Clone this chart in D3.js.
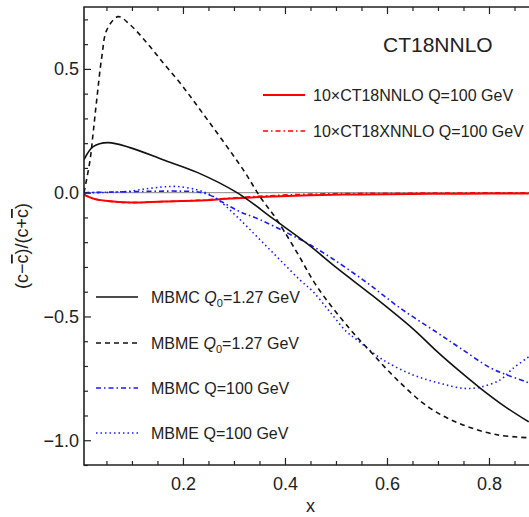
<!DOCTYPE html>
<meta charset="utf-8">
<script src="https://cdn.jsdelivr.net/npm/d3@7"></script>
<style>
body {
  margin: 0;
  background: #fff;
}
text {
  font-family: "Liberation Sans", Arial, sans-serif;
  fill: #222;
}
.tick text {
  font-size: 18px;
}
.domain {
  display: none;
}
</style>
<div id="plot"></div>
<script>

// x in [0.006, 0.878]
var mbmcQ0X = [0.006, 0.024, 0.053, 0.096, 0.161, 0.229, 0.306, 0.38, 0.443, 0.504, 0.573, 0.651, 0.70, 0.743, 0.782, 0.83, 0.878];
var mbmcQ0Y = [0.133, 0.186, 0.202, 0.182, 0.133, 0.081, 0.0, -0.11, -0.205, -0.308, -0.418, -0.55, -0.645, -0.722, -0.788, -0.862, -0.926];

var mbmeQ0X = [0.006, 0.018, 0.024, 0.031, 0.041, 0.051, 0.073, 0.096, 0.129, 0.161, 0.194, 0.229, 0.318, 0.351, 0.384, 0.424, 0.463, 0.527, 0.567, 0.62, 0.684, 0.749, 0.816, 0.878];
var mbmeQ0Y = [0.0, 0.133, 0.243, 0.376, 0.55, 0.659, 0.711, 0.679, 0.606, 0.525, 0.444, 0.348, 0.093, -0.016, -0.109, -0.243, -0.38, -0.55, -0.64, -0.756, -0.87, -0.938, -0.978, -0.99];

var mbmcQX = [0.006, 0.05, 0.1, 0.15, 0.2, 0.233, 0.259, 0.273, 0.312, 0.351, 0.404, 0.449, 0.494, 0.561, 0.625, 0.698, 0.743, 0.802, 0.835, 0.878];
var mbmcQY = [0.0, 0.002, 0.004, 0.006, 0.006, 0.002, -0.016, -0.033, -0.077, -0.109, -0.162, -0.21, -0.268, -0.364, -0.465, -0.565, -0.627, -0.707, -0.736, -0.768];

var mbmeQX = [0.006, 0.05, 0.096, 0.129, 0.16, 0.188, 0.227, 0.253, 0.273, 0.312, 0.351, 0.39, 0.429, 0.455, 0.488, 0.52, 0.541, 0.592, 0.651, 0.704, 0.749, 0.782, 0.822, 0.847, 0.878];
var mbmeQY = [0.0, 0.001, 0.006, 0.016, 0.023, 0.025, 0.012, -0.008, -0.035, -0.109, -0.19, -0.271, -0.352, -0.40, -0.481, -0.56, -0.594, -0.675, -0.736, -0.77, -0.79, -0.786, -0.756, -0.71, -0.663];

var ct18X = [0.006, 0.024, 0.053, 0.096, 0.161, 0.229, 0.292, 0.363, 0.45, 0.55, 0.65, 0.75, 0.878];
var ct18Y = [-0.008, -0.024, -0.034, -0.04, -0.036, -0.032, -0.024, -0.016, -0.01, -0.007, -0.005, -0.004, -0.003];
var ct18xY = [-0.008, -0.024, -0.034, -0.04, -0.036, -0.031, -0.022, -0.013, -0.006, -0.003, -0.002, -0.001, -0.001];

var xTicks = [0.2, 0.4, 0.6, 0.8, 1.0];
var xTickLabels = ['0.2', '0.4', '0.6', '0.8', ''];
var yTicks = [-1.0, -0.5, 0.0, 0.5];

var width = 529, height = 517;

var x = d3.scaleLinear().domain([0.006, 1]).range([84, 591]);
var y = d3.scaleLinear().domain([-1.1, 0.75]).range([465, 7]);

var svg = d3.select('#plot')
  .append('svg')
  .attr('width', width)
  .attr('height', height);

svg.append('defs').append('clipPath')
  .attr('id', 'clip')
  .append('rect')
    .attr('x', x.range()[0])
    .attr('y', y.range()[1])
    .attr('width', x.range()[1] - x.range()[0])
    .attr('height', y.range()[0] - y.range()[1]);

// zero line
svg.append('line')
  .attr('x1', x.range()[0]).attr('x2', width)
  .attr('y1', y(0)).attr('y2', y(0))
  .style('stroke', '#888').style('stroke-width', 1);

var line = d3.line()
  .x(function(d){ return x(d[0]); })
  .y(function(d){ return y(d[1]); })
  .curve(d3.curveCatmullRom.alpha(0.5));

var series = [
  {xs: ct18X, ys: ct18Y, color: '#f00', dash: null, w: 2},
  {xs: ct18X, ys: ct18xY, color: '#f00', dash: '5,3,1.5,3', w: 1.6},
  {xs: mbmeQX, ys: mbmeQY, color: '#1a1aff', dash: '1.5,3', w: 1.6},
  {xs: mbmcQX, ys: mbmcQY, color: '#1a1aff', dash: '5,3,1.5,3', w: 1.6},
  {xs: mbmeQ0X, ys: mbmeQ0Y, color: '#111', dash: '5,4', w: 1.6},
  {xs: mbmcQ0X, ys: mbmcQ0Y, color: '#111', dash: null, w: 1.6}
];

var curves = svg.append('g').attr('clip-path', 'url(#clip)');
series.forEach(function(s){
  curves.append('path')
    .datum(d3.zip(s.xs, s.ys))
    .attr('d', line)
    .style('fill', 'none')
    .style('stroke', s.color)
    .style('stroke-width', s.w)
    .style('stroke-dasharray', s.dash);
});

// frame axes, ticks pointing inward
var minorX = d3.range(0.05, 1.0, 0.05).filter(function(v){ return Math.abs(v*5 - Math.round(v*5)) > 1e-6; });
var minorY = d3.range(-1.1, 0.75, 0.1).filter(function(v){ return Math.abs(v*2 - Math.round(v*2)) > 1e-6; });

svg.append('g')
  .attr('transform', 'translate(0,' + y.range()[0] + ')')
  .call(d3.axisBottom(x).tickValues(xTicks).tickSize(-7).tickPadding(12)
    .tickFormat(function(d, i){ return xTickLabels[i]; }));
svg.append('g')
  .attr('transform', 'translate(0,' + y.range()[0] + ')')
  .call(d3.axisBottom(x).tickValues(minorX).tickSize(-4).tickFormat(''));
svg.append('g')
  .attr('transform', 'translate(0,' + y.range()[1] + ')')
  .call(d3.axisTop(x).tickValues(xTicks).tickSize(-7).tickFormat(''));
svg.append('g')
  .attr('transform', 'translate(0,' + y.range()[1] + ')')
  .call(d3.axisTop(x).tickValues(minorX).tickSize(-4).tickFormat(''));
svg.append('g')
  .attr('transform', 'translate(' + x.range()[0] + ',0)')
  .call(d3.axisLeft(y).tickValues(yTicks).tickSize(-7).tickPadding(5).tickFormat(d3.format('.1f')));
svg.append('g')
  .attr('transform', 'translate(' + x.range()[0] + ',0)')
  .call(d3.axisLeft(y).tickValues(minorY).tickSize(-4).tickFormat(''));

svg.selectAll('.tick line').style('stroke', '#222').style('stroke-width', 1.2);

// frame
svg.append('path')
  .attr('d', 'M' + width + ',' + y.range()[1] + 'H' + x.range()[0] + 'V' + y.range()[0] + 'H' + width)
  .style('fill', 'none')
  .style('stroke', '#222')
  .style('stroke-width', 1.6);

// axis titles
svg.append('text')
  .attr('x', x(0.45))
  .attr('y', 512)
  .attr('text-anchor', 'middle')
  .style('font-size', '18px')
  .text('x');

var ylab = svg.append('text')
  .attr('transform', 'translate(28,246) rotate(-90)')
  .attr('text-anchor', 'middle')
  .style('font-size', '18px');
ylab.append('tspan').text('(c\u2212');
ylab.append('tspan').style('text-decoration', 'overline').text('c');
ylab.append('tspan').text(')/(c+');
ylab.append('tspan').style('text-decoration', 'overline').text('c');
ylab.append('tspan').text(')');

svg.append('text')
  .attr('x', 383)
  .attr('y', 52)
  .style('font-size', '21px')
  .text('CT18NNLO');

// legends
var topLegend = [
  {label: '10\u00d7CT18NNLO Q=100 GeV', s: series[0], y: 95},
  {label: '10\u00d7CT18XNNLO Q=100 GeV', s: series[1], y: 131}
];
topLegend.forEach(function(d){
  svg.append('line')
    .attr('x1', 263).attr('x2', 305)
    .attr('y1', d.y).attr('y2', d.y)
    .style('stroke', d.s.color)
    .style('stroke-width', d.s.w)
    .style('stroke-dasharray', d.s.dash);
  svg.append('text')
    .attr('x', 313).attr('y', d.y + 6)
    .style('font-size', '16px')
    .text(d.label);
});

var botLegend = [
  {name: 'MBMC', q: 'Q', sub: '0', rest: '=1.27 GeV', s: series[5], y: 297},
  {name: 'MBME', q: 'Q', sub: '0', rest: '=1.27 GeV', s: series[4], y: 343},
  {name: 'MBMC', q: 'Q', sub: null, rest: '=100 GeV', s: series[3], y: 388},
  {name: 'MBME', q: 'Q', sub: null, rest: '=100 GeV', s: series[2], y: 433}
];
botLegend.forEach(function(d){
  svg.append('line')
    .attr('x1', 96).attr('x2', 138)
    .attr('y1', d.y).attr('y2', d.y)
    .style('stroke', d.s.color)
    .style('stroke-width', d.s.w)
    .style('stroke-dasharray', d.s.dash);
  var t = svg.append('text')
    .attr('x', 151).attr('y', d.y + 6)
    .style('font-size', '16px');
  t.append('tspan').text(d.name + ' ');
  if(d.sub){
    t.append('tspan').style('font-style', 'italic').text(d.q);
    t.append('tspan').attr('dy', 4).style('font-size', '11px').text(d.sub);
    t.append('tspan').attr('dy', -4).text(d.rest);
  } else {
    t.append('tspan').text(d.q + d.rest);
  }
});

</script>
